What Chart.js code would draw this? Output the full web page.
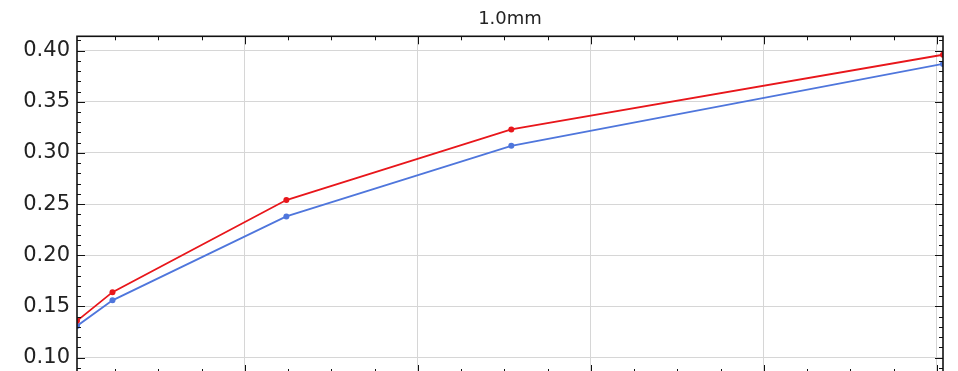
<!DOCTYPE html>
<html>
<head>
<meta charset="utf-8">
<script src="https://cdn.jsdelivr.net/npm/chart.js@4.4.1/dist/chart.umd.min.js"></script>
<style>
	html, body { margin: 0; padding: 0; background: #fff; overflow: hidden; }
	#wrap { width: 958px; height: 377px; }
</style>
</head>
<body>
<div id="wrap"><canvas id="grafico" width="958" height="377"></canvas></div>
<script>
// Serie de datos (eje x sin etiquetas, solo rejilla)
const xValores = [0.06, 0.47, 2.48, 5.08, 10.07];
const serieRoja = [0.136, 0.164, 0.254, 0.323, 0.396];
const serieAzul = [0.131, 0.156, 0.238, 0.307, 0.387];

// Marcas de los ejes
const xMayores = [2, 4, 6, 8, 10];
const yMayores = [0.10, 0.15, 0.20, 0.25, 0.30, 0.35, 0.40];
const xPasoMenor = 0.5;
const yPasoMenor = 0.01;

const titulo = "1.0mm";

// Marco negro y marcas hacia adentro en los cuatro lados
const marcoPlugin = {
	id: "marco",
	afterDatasetsDraw(chart) {
		const { ctx, chartArea: a, scales: { x, y } } = chart;
		ctx.save();
		ctx.strokeStyle = "#111";
		ctx.lineWidth = 1;
		ctx.beginPath();
		const marca = (px, py, dx, dy) => {
			ctx.moveTo(px, py);
			ctx.lineTo(px + dx, py + dy);
		};
		// eje x: menores y mayores
		for (let v = Math.ceil(x.min / xPasoMenor) * xPasoMenor; v <= x.max + 1e-9; v += xPasoMenor) {
			const px = Math.round(x.getPixelForValue(v)) + 0.5;
			const mayor = xMayores.some(m => Math.abs(m - v) < 1e-6);
			const len = mayor ? 8 : 4;
			marca(px, a.top, 0, len);
			marca(px, a.bottom, 0, -len);
		}
		// eje y
		for (let v = Math.ceil(y.min / yPasoMenor) * yPasoMenor; v <= y.max + 1e-9; v += yPasoMenor) {
			const py = Math.round(y.getPixelForValue(v)) + 0.5;
			const mayor = yMayores.some(m => Math.abs(m - v) < 1e-6);
			const len = mayor ? 8 : 4;
			marca(a.left, py, len, 0);
			marca(a.right, py, -len, 0);
		}
		ctx.stroke();
		ctx.lineWidth = 1.6;
		ctx.strokeRect(a.left, a.top, a.right - a.left, a.bottom - a.top);
		ctx.restore();
	}
};

const ctx = document.getElementById("grafico").getContext("2d");
new Chart(ctx, {
	type: "line",
	data: {
		datasets: [
			{
				data: xValores.map((v, i) => ({ x: v, y: serieRoja[i] })),
				borderColor: "#e8161b",
				backgroundColor: "#e8161b",
				borderWidth: 1.8,
				pointRadius: 3,
				pointBorderWidth: 0,
				tension: 0
			},
			{
				data: xValores.map((v, i) => ({ x: v, y: serieAzul[i] })),
				borderColor: "#4f76dc",
				backgroundColor: "#4f76dc",
				borderWidth: 1.8,
				pointRadius: 3,
				pointBorderWidth: 0,
				tension: 0
			}
		]
	},
	options: {
		responsive: false,
		animation: false,
		layout: { padding: { top: 0, right: 15, bottom: 2, left: 0 } },
		scales: {
			x: {
				type: "linear",
				min: xValores[0],
				max: xValores[xValores.length - 1],
				afterBuildTicks: s => { s.ticks = xMayores.map(v => ({ value: v })); },
				afterFit: s => { s.height = 0; s.paddingLeft = 0; s.paddingRight = 0; },
				ticks: { display: false },
				grid: { color: "#d6d6d6", lineWidth: 1, drawTicks: false },
				border: { display: false }
			},
			y: {
				min: 0.085,
				max: 0.414,
				afterBuildTicks: s => { s.ticks = yMayores.map(v => ({ value: v })); },
				// ancho fijo y sin relleno extra arriba/abajo por las etiquetas
				afterFit: s => { s.width = 77; s.paddingTop = 0; s.paddingBottom = 0; },
				ticks: {
					padding: 7,
					color: "#222",
					font: { family: "DejaVu Sans", size: 21 },
					callback: v => v.toFixed(2)
				},
				grid: { color: "#d6d6d6", lineWidth: 1, drawTicks: false },
				border: { display: false }
			}
		},
		plugins: {
			legend: { display: false },
			tooltip: { enabled: false },
			title: {
				display: true,
				fullSize: false,
				text: titulo,
				color: "#222",
				font: { family: "DejaVu Sans", size: 18, weight: "normal", lineHeight: 1.2 },
				padding: { top: 9, bottom: 5.7 }
			}
		}
	},
	plugins: [marcoPlugin]
});
</script>
</body>
</html>
